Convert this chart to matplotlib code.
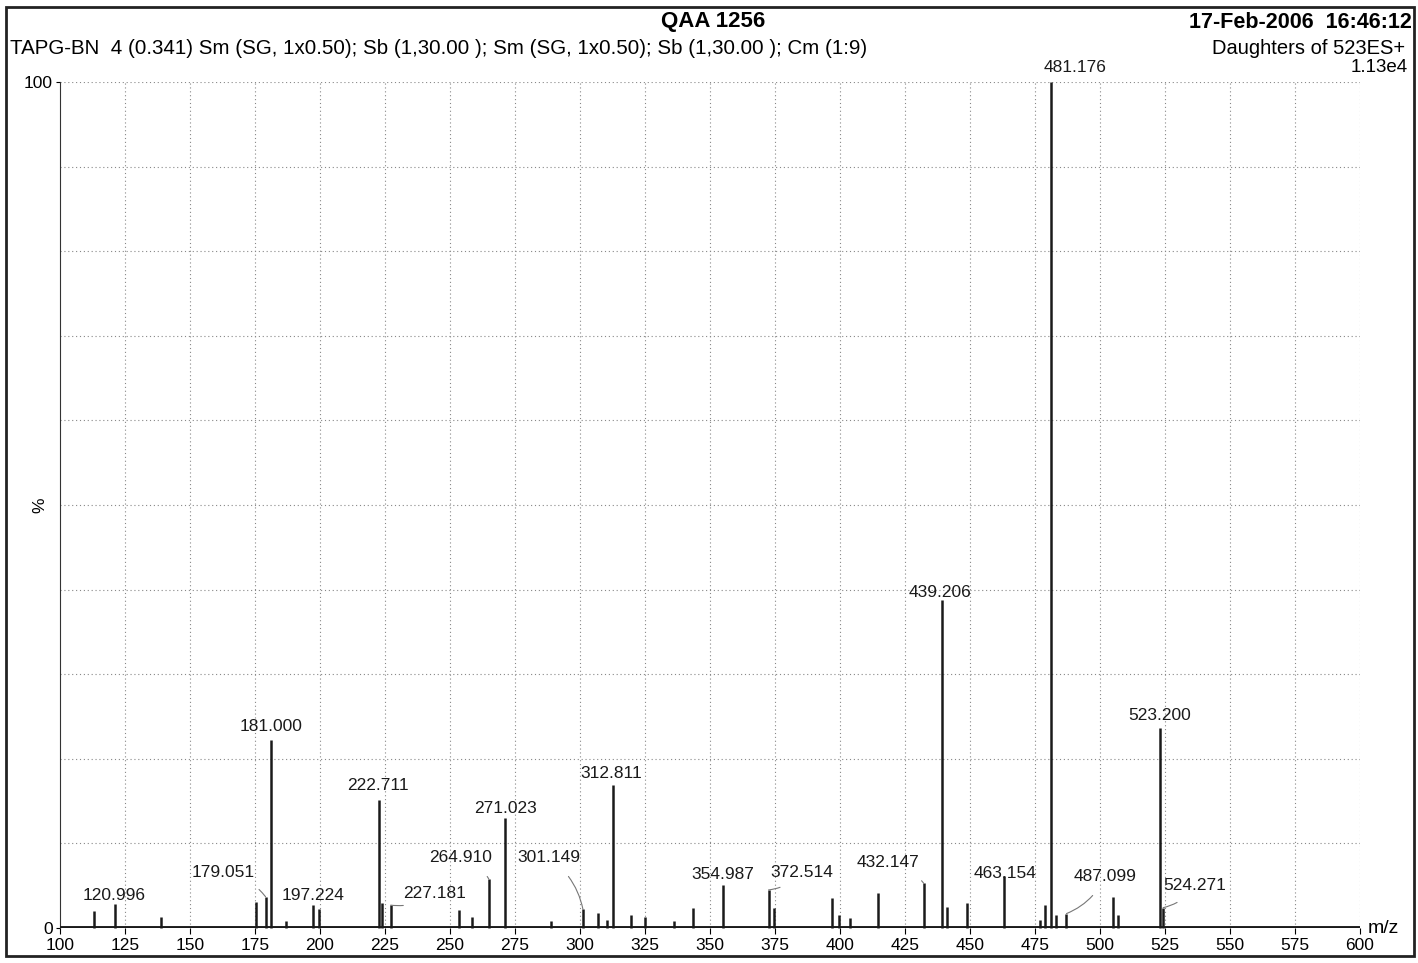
import numpy as np
import matplotlib
matplotlib.use('Agg')
import matplotlib.pyplot as plt
from matplotlib.patches import Rectangle

plt.rcParams['font.family'] = ['Liberation Sans', 'DejaVu Sans']

# spectrum peaks: m/z and relative intensity (%)
mz = [113.0, 120.996, 139.0, 175.2, 179.051, 181.000, 187.0, 197.224, 199.6,
      222.711, 224.0, 227.181, 253.3, 258.5, 264.910, 271.023, 289.0,
      301.149, 306.8, 310.5, 312.811, 319.5, 325.0, 336.0, 343.3, 354.987,
      372.514, 374.6, 396.9, 399.5, 404.0, 414.7, 432.147, 439.206, 441.0,
      449.0, 463.154, 477.0, 479.0, 481.176, 483.0, 487.099, 505.0, 507.0,
      523.200, 524.271]
intensity = [2.0, 2.8, 1.3, 3.1, 3.7, 22.2, 0.8, 2.7, 2.3,
             15.1, 3.0, 2.7, 2.1, 1.3, 5.8, 13.0, 0.8,
             2.2, 1.8, 1.0, 16.9, 1.5, 1.3, 0.8, 2.4, 5.1,
             4.5, 2.4, 3.5, 1.5, 1.2, 4.1, 5.3, 38.8, 2.5,
             3.0, 6.2, 1.0, 2.7, 100.0, 1.5, 1.7, 3.7, 1.5,
             23.6, 2.4]

# labelled peaks
label_mz = [481.176, 439.206, 523.200, 181.000, 222.711, 312.811, 271.023,
            264.910, 301.149, 179.051, 197.224, 120.996, 227.181, 354.987,
            372.514, 432.147, 463.154, 487.099, 524.271]
label_int = [100.0, 38.8, 23.6, 22.2, 15.1, 16.9, 13.0,
             5.8, 2.2, 3.7, 2.7, 2.8, 2.7, 5.1,
             4.5, 5.3, 6.2, 1.7, 2.4]
# text positions (data coords) and whether a leader line is drawn
label_pos = [(490.4, 101.7), (438.6, 39.7), (523.1, 25.1), (181.2, 23.8),
             (222.3, 16.8), (312.2, 18.3), (271.5, 14.1), (254.2, 8.3),
             (288.0, 8.3), (162.8, 6.6), (197.3, 3.9), (120.9, 3.9),
             (244.2, 4.1), (354.8, 6.3), (385.2, 6.6), (418.6, 7.7),
             (463.5, 6.5), (501.9, 6.1), (536.5, 5.0)]
leader = [False, False, False, False, False, False, False,
          True, True, True, False, False, True, False,
          True, True, False, True, True]

W, H = 1418, 963
fig = plt.figure(figsize=(W / 100, H / 100), dpi=100)
ax = fig.add_axes([60 / W, 35 / H, 1300 / W, 846 / H])

ax.set_xlim(100, 600)
ax.set_ylim(0, 100)

# grid
for gx in range(125, 601, 25):
    ax.axvline(gx, color='#888888', lw=0.8, ls=(0, (1, 2.5)), zorder=0)
for gy in range(10, 101, 10):
    ax.axhline(gy, color='#888888', lw=0.8, ls=(0, (1, 2.5)), zorder=0)

ax.vlines(mz, 0, intensity, color='#1a1a1a', lw=1.8, zorder=3, clip_on=False)
ax.axhline(0, color='#1a1a1a', lw=2.8, zorder=4)

for m, h, (tx, ty), ld in zip(label_mz, label_int, label_pos, leader):
    txt = f"{m:.3f}"
    if ld:
        ax.annotate(txt, xy=(m, h), xytext=(tx, ty), ha='center', va='center',
                    fontsize=12.5, color='#1a1a1a', annotation_clip=False,
                    arrowprops=dict(arrowstyle='-', color='#777777', lw=0.8,
                                    shrinkA=8, shrinkB=0,
                                    connectionstyle='arc3,rad=-0.2'))
    else:
        ax.text(tx, ty, txt, ha='center', va='center', fontsize=12.5,
                color='#1a1a1a', clip_on=False)

for s in ['top', 'right', 'bottom']:
    ax.spines[s].set_visible(False)
ax.spines['left'].set_color('#333333')
ax.spines['left'].set_linewidth(0.8)

ax.set_xticks(range(100, 601, 25))
ax.set_xticklabels([str(v) for v in range(100, 601, 25)], fontsize=12.5)
ax.set_yticks([0, 100])
ax.set_yticklabels(['0', '100'], fontsize=12.5)
ax.tick_params(axis='x', length=4, width=0.8, pad=3)
ax.tick_params(axis='y', length=3, width=0.8, pad=2)

# header texts
fig.text(713 / W, 1 - 22 / H, 'QAA 1256', ha='center', va='center',
         fontsize=16, fontweight='bold')
fig.text(1412 / W, 1 - 22 / H, '17-Feb-2006  16:46:12', ha='right', va='center',
         fontsize=15.5, fontweight='bold')
fig.text(10 / W, 1 - 48 / H,
         'TAPG-BN  4 (0.341) Sm (SG, 1x0.50); Sb (1,30.00 ); Sm (SG, 1x0.50); Sb (1,30.00 ); Cm (1:9)',
         ha='left', va='center', fontsize=14.8)
fig.text(1405 / W, 1 - 48 / H, 'Daughters of 523ES+', ha='right', va='center', fontsize=14.5)
fig.text(1408 / W, 1 - 68 / H, '1.13e4', ha='right', va='center', fontsize=13.5)
fig.text(40 / W, 1 - 505 / H, '%', ha='center', va='center', fontsize=12.5, rotation=90)
fig.text(1368 / W, 1 - 928 / H, 'm/z', ha='left', va='center', fontsize=14)

# page border
fig.add_artist(Rectangle((6 / W, 7 / H), 1408 / W, 949 / H, transform=fig.transFigure,
                         fill=False, edgecolor='#222222', lw=2))

fig.savefig('out.png', dpi=100, facecolor='white')
